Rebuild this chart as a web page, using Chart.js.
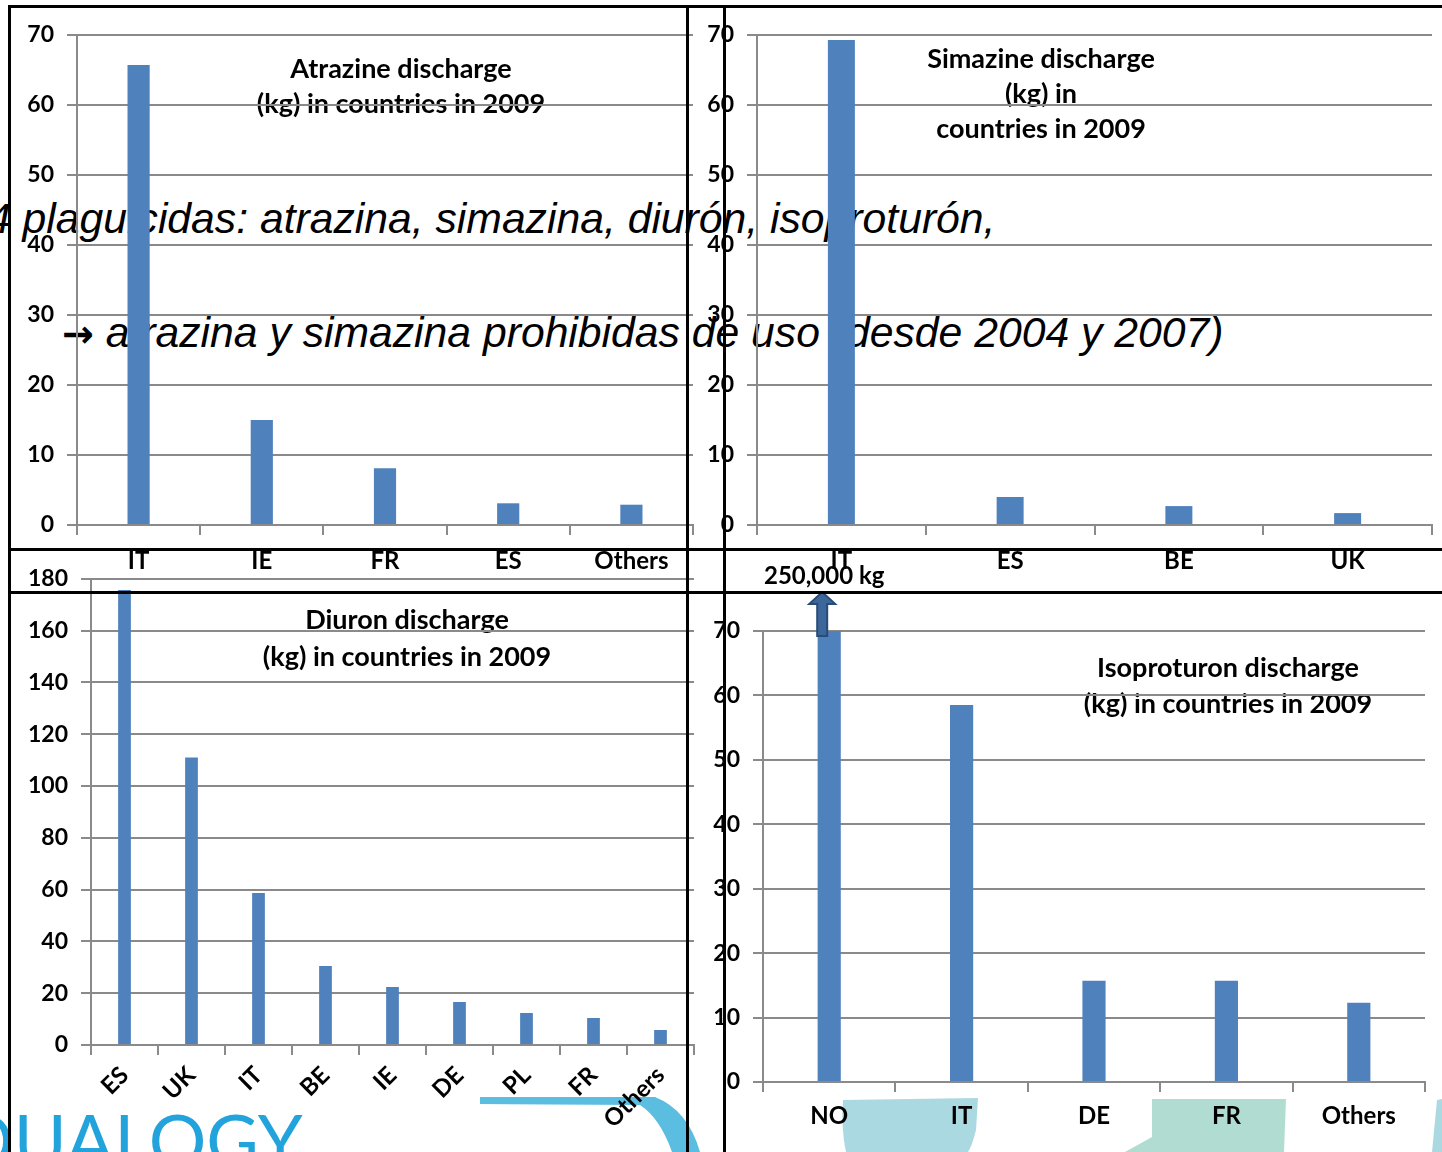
<!DOCTYPE html>
<html>
<head>
<meta charset="utf-8">
<script src="https://cdn.jsdelivr.net/npm/chart.js@4.4.1/dist/chart.umd.min.js"></script>
<style>
  html, body { margin: 0; padding: 0; background: #fff; }
  #slide { position: relative; width: 1442px; height: 1152px; overflow: hidden; background: #fff; }
  #slide canvas, #slide svg { position: absolute; }
</style>
</head>
<body>
<div id="slide">
  <!-- background: logo shapes and the slide's running text -->
  <svg id="back" width="1442" height="1152" style="left:0;top:0">
    <path d="M480,1097 L655,1097 Q688,1110 700,1152 L672,1152 Q660,1118 640,1105 L480,1104 Z" fill="#5bbde0"/>
    <path d="M843,1100 L978,1098 L976,1130 Q972,1146 968,1152 L846,1152 Q841,1130 843,1100 Z" fill="#abd9e1"/>
    <path d="M1152,1099 L1286,1099 L1284,1152 L1125,1152 L1152,1137 Z" fill="#b1dcd2"/>
    <path d="M1437,1100 L1442,1099 L1442,1152 L1432,1152 Z" fill="#abd9e1"/>
    <text x="-44" y="1167" font-family="Lato" font-size="72" fill="#22a3dc">QUALOGY</text>
    <g font-family="Liberation Sans" font-style="italic" font-size="42.7" fill="#000">
      <text x="-13" y="233">4 plaguicidas: atrazina, simazina, diurón, isoproturón,</text>
      <text x="62" y="347"><tspan font-family="DejaVu Sans" font-style="normal" font-weight="bold" font-size="38">→</tspan> atrazina y simazina prohibidas de uso (desde 2004 y 2007)</text>
    </g>
  </svg>

  <canvas id="atrazine" width="720" height="600" style="left:0;top:0"></canvas>
  <canvas id="simazine" width="752" height="600" style="left:690px;top:0"></canvas>
  <canvas id="diuron" width="720" height="600" style="left:0;top:552px"></canvas>
  <canvas id="isoproturon" width="752" height="592" style="left:690px;top:560px"></canvas>

  <!-- black frames of the pasted chart boxes -->
  <svg id="frames" width="1442" height="1152" style="left:0;top:0">
    <g fill="#000">
      <rect x="8" y="5" width="1434" height="3"/>
      <rect x="8" y="548" width="1434" height="3"/>
      <rect x="8" y="591" width="1434" height="3"/>
      <rect x="8" y="5" width="3" height="1147"/>
      <rect x="686" y="5" width="3" height="1147"/>
      <rect x="723" y="5" width="3" height="1147"/>
    </g>
  </svg>
</div>

<script>
// --- DATA ---
const atrazineCountries = ['IT', 'IE', 'FR', 'ES', 'Others'];
const atrazineKg = [65.7, 15, 8.1, 3.1, 2.9];

const simazineCountries = ['IT', 'ES', 'BE', 'UK'];
const simazineKg = [69.3, 4, 2.7, 1.7];

const diuronCountries = ['ES', 'UK', 'IT', 'BE', 'IE', 'DE', 'PL', 'FR', 'Others'];
const diuronKg = [175.7, 111, 58.7, 30.5, 22.4, 16.6, 12.4, 10.4, 5.8];

// NO goes far off the scale, the bar is cut at the top of the plot
const isoproturonCountries = ['NO', 'IT', 'DE', 'FR', 'Others'];
const isoproturonKg = [250000, 58.5, 15.7, 15.7, 12.3];

const axisMaxSmall = 70;
const axisStepSmall = 10;
const axisMaxDiuron = 180;
const axisStepDiuron = 20;

// --- STYLE ---
const BAR = '#4f81bd';
const GRID = '#8a8a8a';
const FONT = 'Lato';
Chart.defaults.font.family = FONT;
Chart.defaults.color = '#000';

// title text inside the plot, painted before the grid so the lines run over it
const innerTitle = {
    id: 'innerTitle',
    beforeDraw(chart, args, opts) {
        if (!opts.lines) return;
        const ctx = chart.ctx;
        ctx.save();
        ctx.font = `bold ${opts.size}px ${FONT}`;
        ctx.fillStyle = '#000';
        ctx.textAlign = 'center';
        ctx.textBaseline = 'middle';
        opts.lines.forEach((t, i) => ctx.fillText(t, opts.x, opts.y + i * opts.step));
        ctx.restore();
    }
};

// arrow + value note over the clipped NO bar
const offScale = {
    id: 'offScale',
    afterDraw(chart, args, opts) {
        if (!opts.enabled) return;
        const bar = chart.getDatasetMeta(0).data[0];
        const value = chart.data.datasets[0].data[0];
        const top = chart.chartArea.top;
        const cx = bar.x - 7;
        const ctx = chart.ctx;
        ctx.save();
        ctx.beginPath();
        ctx.moveTo(cx - 5, top + 5);
        ctx.lineTo(cx - 5, top - 27);
        ctx.lineTo(cx - 13, top - 27);
        ctx.lineTo(cx, top - 39);
        ctx.lineTo(cx + 13, top - 27);
        ctx.lineTo(cx + 5, top - 27);
        ctx.lineTo(cx + 5, top + 5);
        ctx.closePath();
        ctx.fillStyle = '#3c679b';
        ctx.fill();
        ctx.lineWidth = 2;
        ctx.strokeStyle = '#294b77';
        ctx.stroke();
        ctx.font = `bold 24px ${FONT}`;
        ctx.fillStyle = '#000';
        ctx.textAlign = 'center';
        ctx.textBaseline = 'middle';
        ctx.fillText(`${value.toLocaleString('en-US')} kg`, cx + 2, top - 55);
        ctx.restore();
    }
};

const makeChart = (id, labels, values, cfg) => {
    return new Chart(document.getElementById(id), {
        type: 'bar',
        data: {
            labels: labels,
            datasets: [{
                data: values,
                backgroundColor: BAR,
                borderWidth: 0,
                barPercentage: cfg.barPct,
                categoryPercentage: 1
            }]
        },
        options: {
            responsive: false,
            animation: false,
            layout: { autoPadding: false, padding: { left: 0, top: cfg.top, right: cfg.right, bottom: 0 } },
            plugins: {
                legend: { display: false },
                tooltip: { enabled: false },
                innerTitle: cfg.title,
                offScale: { enabled: !!cfg.offScale }
            },
            scales: {
                x: {
                    grid: { drawOnChartArea: false, drawTicks: true, tickLength: 10, color: GRID, lineWidth: 2, offset: true },
                    border: { color: GRID, width: 2 },
                    ticks: {
                        font: { size: 24, weight: 'bold' },
                        padding: cfg.xPad,
                        autoSkip: false,
                        minRotation: cfg.rot || 0,
                        maxRotation: cfg.rot || 0
                    },
                    afterFit: (s) => { s.height = cfg.xHeight; }
                },
                y: {
                    min: 0,
                    max: cfg.max,
                    ticks: { stepSize: cfg.step, padding: 13, font: { size: 23, weight: 'bold' } },
                    grid: { color: GRID, lineWidth: 2, tickLength: 10 },
                    border: { color: GRID, width: 2 },
                    afterFit: (s) => { s.width = cfg.yWidth; }
                }
            }
        },
        plugins: [innerTitle, offScale]
    });
};

makeChart('atrazine', atrazineCountries, atrazineKg, {
    barPct: 0.18, top: 35, right: 27, yWidth: 77, xHeight: 75, xPad: 12,
    max: axisMaxSmall, step: axisStepSmall,
    title: { lines: ['Atrazine discharge', '(kg) in countries in 2009'], x: 401, y: 69, step: 35, size: 27 }
});

makeChart('simazine', simazineCountries, simazineKg, {
    barPct: 0.16, top: 35, right: 10, yWidth: 67, xHeight: 75, xPad: 12,
    max: axisMaxSmall, step: axisStepSmall,
    title: { lines: ['Simazine discharge', '(kg) in', 'countries in 2009'], x: 351, y: 59, step: 35, size: 27 }
});

makeChart('diuron', diuronCountries, diuronKg, {
    barPct: 0.19, top: 19, right: 26, yWidth: 91, xHeight: 107, xPad: 6, rot: 45,
    max: axisMaxDiuron, step: axisStepDiuron,
    title: { lines: ['Diuron discharge', '(kg) in countries in 2009'], x: 407, y: 68, step: 37, size: 27 }
});

makeChart('isoproturon', isoproturonCountries, isoproturonKg, {
    barPct: 0.175, top: 71, right: 17, yWidth: 73, xHeight: 70, xPad: 10,
    max: axisMaxSmall, step: axisStepSmall, offScale: true,
    title: { lines: ['Isoproturon discharge', '(kg) in countries in 2009'], x: 538, y: 108, step: 36, size: 27 }
});
</script>
</body>
</html>
